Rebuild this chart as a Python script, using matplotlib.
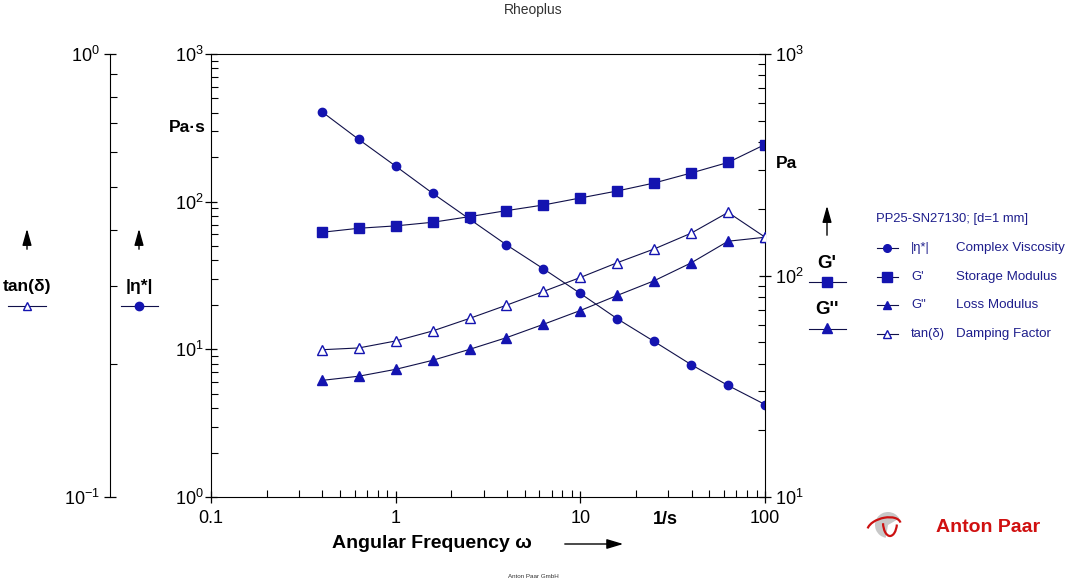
import matplotlib
matplotlib.use("Agg")
import matplotlib.pyplot as plt
import matplotlib.ticker as mticker
from matplotlib.patches import Wedge, Arc
import numpy as np

plt.rcParams['font.family'] = ['Liberation Sans', 'DejaVu Sans']
plt.rcParams['axes.unicode_minus'] = False

# data
freq = [0.398, 0.631, 1.0, 1.585, 2.512, 3.981, 6.31, 10.0, 15.85, 25.12, 39.81, 63.1, 100.0]
eta = [407, 264, 174, 114, 76.2, 51.0, 35.1, 23.9, 16.1, 11.3, 7.88, 5.69, 4.23]
g_store = [156.7, 163.4, 167.5, 173.9, 184.4, 196.3, 208.1, 223.9, 240.8, 261.6, 290.2, 323.9, 390.3]
g_loss = [33.6, 35.1, 37.7, 41.4, 46.4, 52.4, 60.2, 69.5, 81.3, 94.7, 114.0, 142.8, 148.8]
tan_d = [0.215, 0.217, 0.225, 0.237, 0.253, 0.271, 0.291, 0.313, 0.338, 0.363, 0.394, 0.439, 0.386]

xticks = [0.1, 1, 10, 100]
xticklabels = ['0.1', '1', '10', '100']

MK = '#1414b0'
LN = '#10104a'
TXT = '#1e1e8c'
W, H = 1065, 581

fig = plt.figure(figsize=(W / 100, H / 100), dpi=100)
L, R, T, B = 211, 765, 54, 497
ax = fig.add_axes([L / W, 1 - B / H, (R - L) / W, (B - T) / H])
ax_g = ax.twinx()
ax_t = ax.twinx()

ax.set_xscale('log')
ax.set_xlim(0.1, 100)
ax.set_yscale('log')
ax.set_ylim(1, 1000)
ax_g.set_yscale('log')
ax_g.set_ylim(10, 1000)
ax_t.set_yscale('log')
ax_t.set_ylim(0.1, 1)

# curves
ax.plot(freq, eta, '-', color=LN, lw=0.8, marker='o', ms=6, mfc=MK, mec=MK)
ax_g.plot(freq, g_store, '-', color=LN, lw=0.8, marker='s', ms=7, mfc=MK, mec=MK)
ax_g.plot(freq, g_loss, '-', color=LN, lw=0.8, marker='^', ms=7, mfc=MK, mec=MK)
ax_t.plot(freq, tan_d, '-', color=LN, lw=0.8, marker='^', ms=7, mfc='white', mec=MK, mew=1)

# spines
for a in (ax_g, ax_t):
    a.patch.set_visible(False)
    for s in ('top', 'bottom', 'left', 'right'):
        a.spines[s].set_visible(False)
ax.spines['right'].set_visible(False)
ax_g.spines['right'].set_visible(True)
ax_t.spines['left'].set_visible(True)
ax_t.spines['left'].set_position(('axes', (110 - L) / (R - L)))
ax_t.yaxis.set_ticks_position('left')
ax_t.yaxis.set_label_position('left')

# ticks
ax.set_xticks(xticks, labels=xticklabels)
ax.xaxis.set_minor_formatter(mticker.NullFormatter())
ax.set_yticks([1, 10, 100, 1000])
ax_g.set_yticks([10, 100, 1000])
ax_t.set_yticks([0.1, 1])
for a in (ax, ax_g, ax_t):
    a.yaxis.set_minor_locator(mticker.LogLocator(subs=np.arange(2, 10)))
    a.yaxis.set_minor_formatter(mticker.NullFormatter())

ax.tick_params(axis='x', which='major', direction='inout', length=9, width=0.9, pad=5, labelsize=13, top=False)
ax.tick_params(axis='x', which='minor', direction='in', length=5, width=0.8, top=False)
for a, p in ((ax, 1), (ax_g, 3), (ax_t, 3)):
    a.tick_params(axis='y', which='major', direction='inout', length=9, width=0.9, pad=p, labelsize=13)
    a.tick_params(axis='y', which='minor', direction='in', length=5, width=0.8)
ax.tick_params(axis='y', right=False, which='both')

# overlay in pixel coordinates for annotations
ov = fig.add_axes([0, 0, 1, 1])
ov.set_xlim(0, W)
ov.set_ylim(H, 0)
ov.axis('off')

ov.text(533, 10, 'Rheoplus', ha='center', va='center', fontsize=10, color='#333333')
ov.text(533, 576, 'Anton Paar GmbH', ha='center', va='center', fontsize=4.5, color='#333333')

ov.text(665, 519, '1/s', ha='center', va='center', fontsize=13, fontweight='bold')
ov.text(432, 543, 'Angular Frequency ω', ha='center', va='center', fontsize=14, fontweight='bold')
ov.annotate('', xy=(626, 544), xytext=(562, 544),
            arrowprops=dict(arrowstyle='-|>,head_length=1.0,head_width=0.3', color='black', lw=1))

ov.text(206, 127, 'Pa·s', ha='right', va='center', fontsize=12.5, fontweight='bold')
ov.text(776, 163, 'Pa', ha='left', va='center', fontsize=12.5, fontweight='bold')


def up_arrow(x, y0, y1):
    ov.annotate('', xy=(x, y1), xytext=(x, y0),
                arrowprops=dict(arrowstyle='-|>,head_length=1.0,head_width=0.28', color='black', lw=1))


up_arrow(27, 252, 226)
up_arrow(139, 252, 226)
up_arrow(827, 238, 203)

ov.text(27, 287, 'tan(δ)', ha='center', va='center', fontsize=12.5, fontweight='bold')
ov.plot([8, 46], [306, 306], color=LN, lw=0.8)
ov.plot([27], [306], marker='^', ms=6, mfc='white', mec=MK, mew=1)
ov.text(139, 287, '|η*|', ha='center', va='center', fontsize=12.5, fontweight='bold')
ov.plot([121, 158], [306, 306], color=LN, lw=0.8)
ov.plot([139], [306], marker='o', ms=6, mfc=MK, mec=MK)

ov.text(827, 264, "G'", ha='center', va='center', fontsize=13.5, fontweight='bold')
ov.plot([809, 846], [282, 282], color=LN, lw=0.8)
ov.plot([827], [282], marker='s', ms=7, mfc=MK, mec=MK)
ov.text(827, 310, "G''", ha='center', va='center', fontsize=13.5, fontweight='bold')
ov.plot([809, 846], [329, 329], color=LN, lw=0.8)
ov.plot([827], [328], marker='^', ms=6.5, mfc=MK, mec=MK)

# legend block
ov.text(876, 219, 'PP25-SN27130; [d=1 mm]', ha='left', va='center', fontsize=9.4, color=TXT)
entries = [('o', MK, '|η*|', 'Complex Viscosity'),
           ('s', MK, "G'", 'Storage Modulus'),
           ('^', MK, 'G"', 'Loss Modulus'),
           ('^', 'white', 'tan(δ)', 'Damping Factor')]
for i, (m, fc, sym, desc) in enumerate(entries):
    y = 248 + i * 28.7
    ov.plot([877, 898], [y, y], color=LN, lw=0.8)
    ov.plot([887], [y], marker=m, ms=5.5 if m != 's' else 6.5, mfc=fc, mec=MK, mew=1)
    ov.text(911, y, sym, ha='left', va='center', fontsize=9.4, color=TXT)
    ov.text(956, y, desc, ha='left', va='center', fontsize=9.6, color=TXT)

# Anton Paar logo
ov.add_patch(Wedge((888, 525), 13, 100, 330, facecolor='#c8c8c8', edgecolor='none'))
ov.add_patch(Arc((884, 527), 34, 18, angle=-15, theta1=190, theta2=360, color='#cc1111', lw=1.6))
ov.add_patch(Arc((890, 522), 14, 28, angle=0, theta1=20, theta2=170, color='#cc1111', lw=1.6))
ov.text(936, 527, 'Anton Paar', ha='left', va='center', fontsize=14, fontweight='bold', color='#d01010')

fig.savefig('out.png', dpi=100)
